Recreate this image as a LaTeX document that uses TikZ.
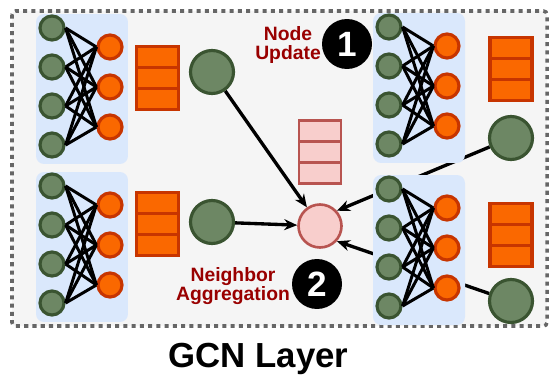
\documentclass[tikz,border=0pt]{standalone}
\usepackage{fontspec}
\setmainfont{Liberation Sans}
\usepackage{tikz}
\usetikzlibrary{arrows.meta}
\definecolor{greenfill}{HTML}{6D8764}
\definecolor{greenline}{HTML}{3A5431}
\definecolor{orangefill}{HTML}{FA6800}
\definecolor{orangeline}{HTML}{C73500}
\definecolor{panelblue}{HTML}{DAE8FC}
\definecolor{pinkfill}{HTML}{F8CECC}
\definecolor{pinkline}{HTML}{B85450}
\definecolor{framefill}{HTML}{F5F5F5}
\definecolor{framedash}{HTML}{666666}
\definecolor{lblred}{HTML}{990000}
\pgfdeclarelayer{bg}
\pgfdeclarelayer{edges}
\pgfsetlayers{bg,edges,main}
\tikzset{inn/.style={circle,draw=greenline,fill=greenfill,line width=1.8pt,minimum size=0.48cm,inner sep=0},
 outn/.style={circle,draw=orangeline,fill=orangefill,line width=1.8pt,minimum size=0.48cm,inner sep=0},
 feat/.style={circle,draw=greenline,fill=greenfill,line width=1.8pt,minimum size=0.86cm,inner sep=0},
 agg/.style={circle,draw=pinkline,fill=pinkfill,line width=1.5pt,minimum size=0.86cm,inner sep=0},
 panel/.style={rectangle,fill=panelblue,rounded corners=0.16cm,minimum width=1.84cm,minimum height=3cm,inner sep=0},
 ocell/.style={rectangle,draw=orangeline,fill=orangefill,line width=2pt,minimum width=0.84cm,minimum height=0.42cm,inner sep=0},
 pcell/.style={rectangle,draw=pinkline,fill=pinkfill,line width=1.5pt,minimum width=0.84cm,minimum height=0.42cm,inner sep=0},
 mlp/.style={draw=black,line width=1.7pt},
 arr/.style={draw=black,line width=1.9pt,-{Stealth[length=0.26cm,width=0.22cm]}},
 num/.style={circle,fill=black,text=white,minimum size=1cm,inner sep=0,font=\fontsize{20}{20}\selectfont\bfseries},
 lbl/.style={text=lblred,align=center,inner sep=0,font=\fontsize{11}{11.3}\selectfont\bfseries},
 }

\begin{document}
\begin{tikzpicture}[x=0.02cm,y=-0.02cm]
        \useasboundingbox (0,0) rectangle (550,378);
        \begin{pgfonlayer}{bg}
            \draw[draw=framedash, fill=framefill, line width=2pt, dash pattern=on 2.3pt off 2.4pt, rounded corners=2pt] (12,11) rectangle (547,326);
        \end{pgfonlayer}

        % four small networks
        \foreach \p/\px/\py in {a/36/14, b/36/172, c/373/13, d/373/175} {
            \node[panel] (\p) at (\px+46, \py+75) {};
            \foreach \j in {1,...,4}
                \node[inn] (\p g\j) at (\px+16, \py+14+39*\j-39) {};
            \foreach \k in {1,2,3}
                \node[outn] (\p o\k) at (\px+74, \py+33+40*\k-40) {};
            \foreach \j in {1,...,4} {
                \foreach \k in {1,2,3} {
                    \draw[mlp] (\p g\j.east) -- (\p o\k.west);
                }
            }
        }

        % feature vectors
        \foreach \x/\y in {157.5/57, 157.5/203, 511/48, 511/214} {
            \foreach \k in {0,1,2}
                \node[ocell] at (\x, \y+21*\k) {};
        }
        \foreach \k in {0,1,2}
            \node[pcell] at (320, 131+21*\k) {};

        \node[feat] (f1) at (212, 72) {};
        \node[feat] (f2) at (212, 222) {};
        \node[feat] (f3) at (511, 138) {};
        \node[feat] (f4) at (511, 301) {};
        \node[agg] (sum) at (320, 226) {};

        \begin{pgfonlayer}{edges}
            \draw[arr] (f1) -- (sum);
            \draw[arr] (f2) -- (sum);
            \draw[arr] (f3) -- (sum.42);
            \draw[arr] (f4) -- (sum.-42);
        \end{pgfonlayer}

        \node[lbl] (upd) at (288, 45) {Node\\Update};
        \node[num] (n1) at (347, 44) {1};
        \node[lbl] (aggr) at (233, 286) {Neighbor\\Aggregation};
        \node[num] (n2) at (317, 284) {2};

        \node[inner sep=0, font=\fontsize{19.8}{20}\selectfont\bfseries] (title) at (258.5, 359) {GCN Layer};
    \end{tikzpicture}
\end{document}
